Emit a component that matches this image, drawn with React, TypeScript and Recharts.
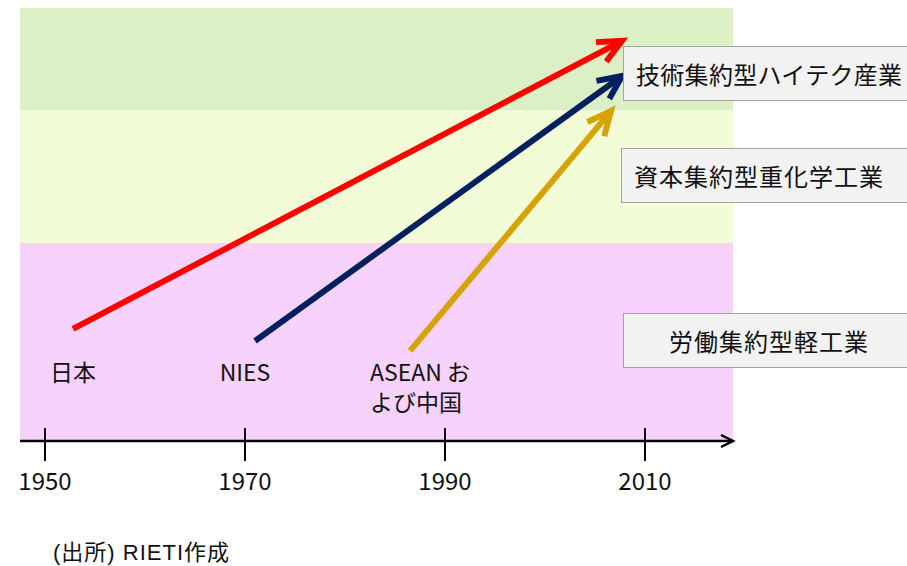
import React from "react";
import {
  ComposedChart,
  XAxis,
  YAxis,
  ReferenceArea,
  ReferenceLine,
} from "recharts";

// timeline ticks
const tickYears = [1950, 1970, 1990, 2010];
const yearDomain = [1947.5, 2018.8];

// industry stages (bottom to top), as bands on a 0-100 "level" scale
const stageNames = ["労働集約型軽工業", "資本集約型重化学工業", "技術集約型ハイテク産業"];
const stageFrom = [0, 45.7, 76.4];
const stageTo = [45.7, 76.4, 100];

// catch-up paths of each economy
const economyLabels = [["日本"], ["NIES"], ["ASEAN お", "よび中国"]];
const startYear = [1952.8, 1971.0, 1986.5];
const startLevel = [25.9, 23.1, 20.8];
const endYear = [2007.7, 2007.7, 2006.6];
const endLevel = [92.4, 84.3, 76.2];

const W = 907;
const H = 566;
const MARGIN = { top: 8, right: 174, bottom: 95, left: 20 };
const PLOT_BOTTOM = H - MARGIN.bottom - 30;

const FONT = '"Noto Sans CJK JP", "Noto Sans", sans-serif';
const stageColors = ["#f6d2fc", "#f2fcd7", "#dbf0c5"];
const arrowColors = ["#ff0000", "#002060", "#d6a400"];
// label offsets from the arrow tail
const labelDx = [0, -10, -40];
const labelAnchor = ["middle", "middle", "start"];
// callout boxes on the right, listed bottom to top like stageNames
const boxTop = [313, 148, 46];
const boxLeft = [623, 621, 623];
const boxPad = [45, 12, 12];
const boxSpacing = [1, 1, 0.3];

const chartData = tickYears.map((year) => ({ year }));

// eslint-disable-next-line @typescript-eslint/no-explicit-any
const YearTick = ({ x, y, payload }: any) => (
  <g>
    <line x1={x} x2={x} y1={y - 13} y2={y + 20} stroke="#000" strokeWidth={2} />
    <text x={x} y={y + 49} textAnchor="middle" fontFamily={FONT} fontSize={24} fill="#111">
      {payload.value}
    </text>
  </g>
);

// eslint-disable-next-line @typescript-eslint/no-explicit-any
const Arrow = ({ x1, y1, x2, y2, idx }: any) => {
  const color = arrowColors[idx];
  const a = Math.atan2(y2 - y1, x2 - x1);
  const L = 26;
  const t = (25 * Math.PI) / 180;
  const ax = x2 - L * Math.cos(a - t);
  const ay = y2 - L * Math.sin(a - t);
  const bx = x2 - L * Math.cos(a + t);
  const by = y2 - L * Math.sin(a + t);
  const lx = x1 + labelDx[idx];
  return (
    <g>
      <line x1={x1} y1={y1} x2={x2 - 3 * Math.cos(a)} y2={y2 - 3 * Math.sin(a)} stroke={color} strokeWidth={6} />
      <polyline
        points={`${ax},${ay} ${x2},${y2} ${bx},${by}`}
        fill="none"
        stroke={color}
        strokeWidth={6}
        strokeLinejoin="miter"
      />
      <text
        x={lx}
        y={PLOT_BOTTOM - 60}
        textAnchor={labelAnchor[idx] as any}
        fontFamily={FONT}
        fontSize={23}
        fill="#111"
      >
        {economyLabels[idx].map((s, i) => (
          <tspan key={i} x={lx} dy={i === 0 ? 0 : 30}>
            {s}
          </tspan>
        ))}
      </text>
    </g>
  );
};

export default function App() {
  return (
    <div
      style={{
        position: "fixed",
        left: 0,
        top: 0,
        width: W,
        height: H,
        overflow: "hidden",
        background: "#fff",
      }}
    >
      <ComposedChart width={W} height={H} data={chartData} margin={MARGIN}>
        <defs>
          <marker
            id="axisArrow"
            markerUnits="userSpaceOnUse"
            markerWidth={16}
            markerHeight={16}
            refX={13}
            refY={7}
            orient="auto"
          >
            <path d="M1,1 L13,7 L1,13" fill="none" stroke="#000" strokeWidth={2.5} />
          </marker>
        </defs>
        {stageNames.map((name, i) => (
          <ReferenceArea
            key={name}
            x1={yearDomain[0]}
            x2={yearDomain[1]}
            y1={stageFrom[i]}
            y2={stageTo[i]}
            fill={stageColors[i]}
            fillOpacity={1}
            stroke="none"
          />
        ))}
        <XAxis
          type="number"
          dataKey="year"
          domain={yearDomain}
          ticks={tickYears}
          allowDataOverflow
          tickSize={0}
          tickMargin={0}
          tickLine={false}
          axisLine={{ stroke: "#000", strokeWidth: 2.5, markerEnd: "url(#axisArrow)" }}
          tick={<YearTick />}
        />
        <YAxis type="number" domain={[0, 100]} allowDataOverflow hide />
        {economyLabels.map((lab, i) => (
          <ReferenceLine
            key={lab.join("")}
            segment={[
              { x: startYear[i], y: startLevel[i] },
              { x: endYear[i], y: endLevel[i] },
            ]}
            shape={(p: any) => <Arrow {...p} idx={i} />}
          />
        ))}
      </ComposedChart>

      {stageNames.map((name, i) => (
        <div
          key={name}
          style={{
            position: "absolute",
            left: boxLeft[i],
            top: boxTop[i],
            width: 300,
            height: 55,
            boxSizing: "border-box",
            background: "#f2f2f2",
            border: "1.5px solid #a3a3a3",
            display: "flex",
            alignItems: "center",
            paddingLeft: boxPad[i],
            fontFamily: FONT,
            fontSize: 24,
            letterSpacing: boxSpacing[i],
            color: "#111",
            whiteSpace: "nowrap",
          }}
        >
          {name}
        </div>
      ))}

      <div
        style={{
          position: "absolute",
          left: 53,
          top: 538,
          fontFamily: '"Liberation Sans", Arial, "Noto Sans CJK JP", sans-serif',
          fontSize: 22,
          letterSpacing: 1,
          color: "#111",
          lineHeight: "30px",
        }}
      >
        (出所) RIETI作成
      </div>
    </div>
  );
}
